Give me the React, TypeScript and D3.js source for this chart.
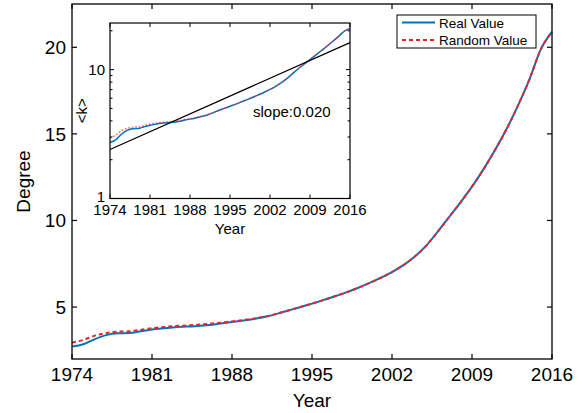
import React from 'react'
import * as d3 from 'd3'

const years = d3.range(1974, 2017)
const realValues = [
  2.72, 2.85, 3.15, 3.38, 3.48, 3.5, 3.6, 3.7, 3.77, 3.83,
  3.87, 3.9, 3.96, 4.05, 4.13, 4.22, 4.32, 4.45, 4.62, 4.82,
  5.0, 5.2, 5.4, 5.62, 5.85, 6.1, 6.38, 6.68, 7.02, 7.42,
  7.92, 8.55, 9.35, 10.2, 11.05, 11.95, 12.95, 14.05, 15.25, 16.6,
  18.1, 19.85, 20.9
]
const randomValues = [
  2.95, 3.1, 3.35, 3.5, 3.58, 3.6, 3.68, 3.78, 3.85, 3.9,
  3.94, 3.98, 4.03, 4.1, 4.17, 4.25, 4.34, 4.46, 4.63, 4.82,
  5.0, 5.2, 5.4, 5.62, 5.85, 6.1, 6.38, 6.68, 7.02, 7.42,
  7.92, 8.55, 9.35, 10.2, 11.05, 11.95, 12.95, 14.05, 15.25, 16.6,
  18.1, 19.85, 20.9
]
const yearTicks = [1974, 1981, 1988, 1995, 2002, 2009, 2016]
const degreeTicks = [5, 10, 15, 20]
const insetTicks = [1, 10]
const insetMinorTicks = [2, 3, 4, 5, 6, 7, 8, 9, 20]
// fitted exponential line in the inset, end points
const fitYears = [1974, 2016]
const fitValues = [2.4, 16.2]
const slopeLabel = 'slope:0.020'
const legendNames = ['Real Value', 'Random Value']

const BLUE = '#0072BD'
const RED = '#E8262A'
const FONT = 'Liberation Sans, Arial, sans-serif'

const W = 584
const H = 413

export default function App() {
  // main plot
  const x = d3.scaleLinear().domain([1974, 2016]).range([72, 552])
  const y = d3.scaleLinear().domain([2, 22.5]).range([359, 4])
  const line = d3.line<number>()
    .x((d, i) => x(years[i]))
    .y(d => y(d))
    .curve(d3.curveMonotoneX)

  // inset
  const ix = d3.scaleLinear().domain([1974, 2016]).range([110, 350])
  const iy = d3.scaleLog().domain([1, 23]).range([198.5, 23])
  const iline = d3.line<number>()
    .x((d, i) => ix(years[i]))
    .y(d => iy(d))
    .curve(d3.curveMonotoneX)
  const fitLine = d3.line<number>()
    .x((d, i) => ix(fitYears[i]))
    .y(d => iy(d))

  const [x0, x1] = x.range()
  const [y0, y1] = y.range()
  const [ix0, ix1] = ix.range()
  const [iy0, iy1] = iy.range()

  return (
    <svg width={W} height={H} style={{ position: 'absolute', left: 0, top: 0 }}
      fontFamily={FONT}>
      <rect width={W} height={H} fill="#fff" />

      {/* main curves */}
      <path d={line(realValues) || ''} fill="none" stroke={BLUE} strokeWidth={2} />
      <path d={line(randomValues) || ''} fill="none" stroke={RED} strokeWidth={2}
        strokeDasharray="4,3" />

      {/* main axes box */}
      <rect x={x0} y={y1} width={x1 - x0} height={y0 - y1} fill="none"
        stroke="#000" strokeWidth={1.3} />
      {yearTicks.map(t => (
        <g key={t}>
          <line x1={x(t)} x2={x(t)} y1={y0} y2={y0 - 5} stroke="#000" strokeWidth={1.2} />
          <line x1={x(t)} x2={x(t)} y1={y1} y2={y1 + 5} stroke="#000" strokeWidth={1.2} />
          <text x={x(t)} y={381} textAnchor="middle" fontSize={19}>{t}</text>
        </g>
      ))}
      {degreeTicks.map(t => (
        <g key={t}>
          <line x1={x0} x2={x0 + 5} y1={y(t)} y2={y(t)} stroke="#000" strokeWidth={1.2} />
          <line x1={x1} x2={x1 - 5} y1={y(t)} y2={y(t)} stroke="#000" strokeWidth={1.2} />
          <text x={66} y={y(t)} dy="0.35em" textAnchor="end" fontSize={19}>{t}</text>
        </g>
      ))}
      <text x={(x0 + x1) / 2} y={407} textAnchor="middle" fontSize={19}>Year</text>
      <text transform={`translate(30,${(y0 + y1) / 2}) rotate(-90)`} textAnchor="middle"
        fontSize={19}>Degree</text>

      {/* legend */}
      <rect x={397} y={15} width={139} height={33} fill="#fff" stroke="#000" strokeWidth={1} />
      <line x1={402} x2={435} y1={22.5} y2={22.5} stroke={BLUE} strokeWidth={2} />
      <line x1={402} x2={435} y1={40} y2={40} stroke={RED} strokeWidth={2} strokeDasharray="4,3" />
      <text x={439} y={27.5} fontSize={13.5}>{legendNames[0]}</text>
      <text x={439} y={44.5} fontSize={13.5}>{legendNames[1]}</text>

      {/* inset */}
      <rect x={ix0} y={iy1} width={ix1 - ix0} height={iy0 - iy1} fill="#fff" />
      <path d={iline(realValues) || ''} fill="none" stroke={BLUE} strokeWidth={1.5} />
      <path d={iline(randomValues) || ''} fill="none" stroke={RED} strokeWidth={1.2}
        strokeDasharray="1.5,2" opacity={0.85} />
      <path d={fitLine(fitValues) || ''} fill="none" stroke="#000" strokeWidth={1.2} />
      <rect x={ix0} y={iy1} width={ix1 - ix0} height={iy0 - iy1} fill="none"
        stroke="#000" strokeWidth={1.2} />
      {yearTicks.map(t => (
        <g key={t}>
          <line x1={ix(t)} x2={ix(t)} y1={iy0} y2={iy0 - 4} stroke="#000" strokeWidth={1} />
          <line x1={ix(t)} x2={ix(t)} y1={iy1} y2={iy1 + 4} stroke="#000" strokeWidth={1} />
          <text x={ix(t)} y={215} textAnchor="middle" fontSize={15}>{t}</text>
        </g>
      ))}
      {insetTicks.map(t => (
        <g key={t}>
          <line x1={ix0} x2={ix0 + 4} y1={iy(t)} y2={iy(t)} stroke="#000" strokeWidth={1} />
          <line x1={ix1} x2={ix1 - 4} y1={iy(t)} y2={iy(t)} stroke="#000" strokeWidth={1} />
          <text x={105} y={iy(t)} dy={t === 1 ? '0.2em' : '0.35em'} textAnchor="end"
            fontSize={15}>{t}</text>
        </g>
      ))}
      {insetMinorTicks.map(t => (
        <g key={t}>
          <line x1={ix0} x2={ix0 + 2.5} y1={iy(t)} y2={iy(t)} stroke="#000" strokeWidth={1} />
          <line x1={ix1} x2={ix1 - 2.5} y1={iy(t)} y2={iy(t)} stroke="#000" strokeWidth={1} />
        </g>
      ))}
      <text x={(ix0 + ix1) / 2} y={234} textAnchor="middle" fontSize={15}>Year</text>
      <text transform={`translate(87,${(iy0 + iy1) / 2}) rotate(-90)`} textAnchor="middle"
        fontSize={15}>{'<k>'}</text>
      <text x={253} y={117} fontSize={15}>{slopeLabel}</text>
    </svg>
  )
}
